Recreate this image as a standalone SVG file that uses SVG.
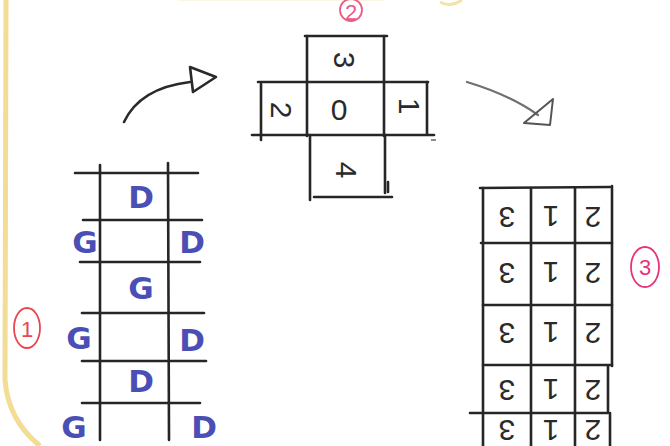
<svg xmlns="http://www.w3.org/2000/svg" width="670" height="446" viewBox="0 0 670 446">
<style>
.ln{stroke:#262626;stroke-width:2.6;stroke-linecap:round;fill:none}
.dg{font-family:"Liberation Sans",Arial,sans-serif;font-size:30px;fill:#2a2a2a;text-anchor:middle;dominant-baseline:central}
.bl{font-family:"DejaVu Sans",sans-serif;font-weight:bold;font-size:31px;fill:#4a4fb5;text-anchor:middle;dominant-baseline:central}
.g3{font-family:"Liberation Sans",Arial,sans-serif;font-size:30px;fill:#2a2a2a;text-anchor:middle;dominant-baseline:central}
.pk{fill:none;stroke-width:1.8}
.pt{font-family:"Liberation Sans",Arial,sans-serif;font-size:22px;text-anchor:middle;dominant-baseline:central}
</style>
<rect width="670" height="446" fill="#ffffff"/>
<g id="paper-edge">
<path d="M6 0 L5 380 Q8 420 40 446" fill="none" stroke="#f3dd95" stroke-width="5"/>
<path d="M178 0 L385 0" fill="none" stroke="#fbf3dc" stroke-width="1.5"/>
<path d="M440 2 Q450 8 462 0" fill="none" stroke="#f5e2a8" stroke-width="3"/>
</g>
<g id="label-2">
<ellipse cx="351" cy="10" rx="11" ry="11" class="pk" stroke="#ec5a86"/>
<text x="351" y="12" class="pt" fill="#ec5a86" font-size="15">2</text>
</g>
<g id="cube-net">
<line x1="305" y1="36" x2="387" y2="36" class="ln"/>
<line x1="307" y1="36" x2="307" y2="136" class="ln"/>
<line x1="384" y1="36" x2="384" y2="136" class="ln"/>
<line x1="258" y1="82" x2="428" y2="82" class="ln"/>
<line x1="252" y1="135" x2="434" y2="135" class="ln"/>
<line x1="261" y1="84" x2="261" y2="140" class="ln"/>
<line x1="427" y1="82" x2="427" y2="134" class="ln"/>
<line x1="310" y1="135" x2="310" y2="200" class="ln"/>
<line x1="385" y1="135" x2="385" y2="193" class="ln"/>
<line x1="314" y1="197" x2="392" y2="197" class="ln"/>
<line x1="388" y1="182" x2="388" y2="192" class="ln" stroke-width="1.4"/>
<text class="dg" transform="translate(344 60) rotate(90)">3</text>
<text class="dg" transform="translate(339 109)" font-size="36">0</text>
<text class="dg" transform="translate(281 110) rotate(90)">2</text>
<text class="dg" transform="translate(409 106) rotate(90)">1</text>
<text class="dg" transform="translate(346 170) rotate(90)">4</text>
</g>
<g id="connectors">
<path d="M124 122 Q140 88 190 82" fill="none" stroke="#2a2a2a" stroke-width="2.6" stroke-linecap="round"/>
<polygon points="190,67 216,77 193,92" fill="none" stroke="#2a2a2a" stroke-width="2.6" stroke-linejoin="round"/>
<path d="M467 82 Q510 95 538 115" fill="none" stroke="#707070" stroke-width="2.2" stroke-linecap="round"/>
<polygon points="553,99 524,123 550,125" fill="none" stroke="#555" stroke-width="2" stroke-linejoin="round"/>
<line x1="431" y1="140" x2="436" y2="140" stroke="#666" stroke-width="1.5"/>
</g>
<g id="grid-1">
<line x1="100" y1="165" x2="100" y2="440" class="ln"/>
<line x1="168" y1="163" x2="169" y2="440" class="ln"/>
<line x1="75" y1="173" x2="198" y2="173" class="ln"/>
<line x1="83" y1="220" x2="202" y2="220" class="ln"/>
<line x1="80" y1="262" x2="200" y2="262" class="ln"/>
<line x1="82" y1="313" x2="204" y2="313" class="ln"/>
<line x1="82" y1="361" x2="206" y2="361" class="ln"/>
<line x1="82" y1="403" x2="200" y2="403" class="ln"/>
<text x="141" y="197" class="bl">D</text>
<text x="85" y="242" class="bl">G</text>
<text x="192" y="242" class="bl">D</text>
<text x="141" y="288" class="bl">G</text>
<text x="79" y="338" class="bl">G</text>
<text x="192" y="340" class="bl">D</text>
<text x="141" y="381" class="bl">D</text>
<text x="74" y="427" class="bl">G</text>
<text x="204" y="427" class="bl">D</text>
</g>
<g id="label-1">
<ellipse cx="27" cy="328" rx="13" ry="20" class="pk" stroke="#e8474f"/>
<text x="27" y="329" class="pt" fill="#e8474f">1</text>
</g>
<g id="grid-3">
<line x1="483" y1="188" x2="483" y2="446" class="ln"/>
<line x1="531" y1="188" x2="531" y2="446" class="ln"/>
<line x1="575" y1="188" x2="575" y2="446" class="ln"/>
<line x1="612" y1="186" x2="612" y2="366" class="ln"/>
<line x1="608" y1="366" x2="608" y2="413" class="ln"/>
<line x1="610" y1="413" x2="610" y2="446" class="ln"/>
<line x1="480" y1="188" x2="610" y2="187" class="ln"/>
<line x1="481" y1="243" x2="612" y2="243" class="ln"/>
<line x1="483" y1="305" x2="612" y2="305" class="ln"/>
<line x1="483" y1="365" x2="612" y2="365" class="ln"/>
<line x1="470" y1="413" x2="607" y2="413" class="ln"/>
<text class="g3" transform="translate(507 217) rotate(180)">3</text>
<text class="g3" transform="translate(551 216) rotate(180)">1</text>
<text class="g3" transform="translate(593 217) rotate(180)">2</text>
<text class="g3" transform="translate(507 273) rotate(180)">3</text>
<text class="g3" transform="translate(551 272) rotate(180)">1</text>
<text class="g3" transform="translate(593 273) rotate(180)">2</text>
<text class="g3" transform="translate(507 333) rotate(180)">3</text>
<text class="g3" transform="translate(551 332) rotate(180)">1</text>
<text class="g3" transform="translate(593 333) rotate(180)">2</text>
<text class="g3" transform="translate(507 390) rotate(180)">3</text>
<text class="g3" transform="translate(551 389) rotate(180)">1</text>
<text class="g3" transform="translate(593 390) rotate(180)">2</text>
<text class="g3" transform="translate(507 430) rotate(180)" font-size="24">3</text>
<text class="g3" transform="translate(551 430) rotate(180)" font-size="24">1</text>
<text class="g3" transform="translate(593 430) rotate(180)" font-size="24">2</text>
</g>
<g id="label-3">
<ellipse cx="645" cy="267" rx="14" ry="20" class="pk" stroke="#e6347a"/>
<text x="645" y="267" class="pt" fill="#e6347a">3</text>
</g>
</svg>
